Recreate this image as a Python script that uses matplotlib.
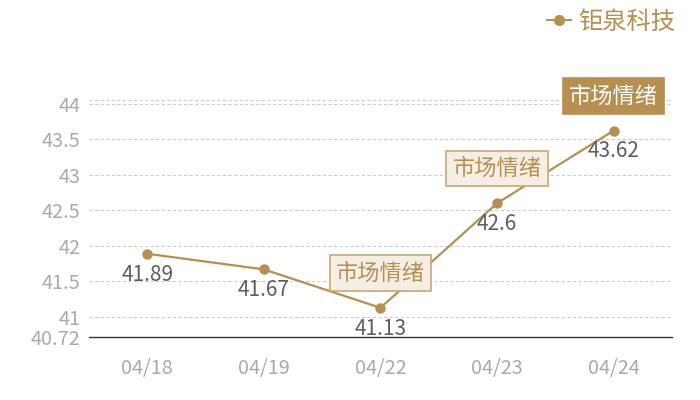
import matplotlib
matplotlib.use("Agg")
import matplotlib.pyplot as plt
from matplotlib.lines import Line2D

plt.rcParams["font.family"] = ["Noto Sans CJK SC", "DejaVu Sans"]

# data
dates = ["04/18", "04/19", "04/22", "04/23", "04/24"]
prices = [41.89, 41.67, 41.13, 42.6, 43.62]
series_name = "钜泉科技"
mark_label = "市场情绪"
mark_idx = [2, 3, 4]
mark_hot = 4
y_ticks = [40.72, 41, 41.5, 42, 42.5, 43, 43.5, 44]
y_min, y_max = 40.72, 44.05

GOLD = "#b68f51"
LIGHT_BG = "#f4eee5"
LIGHT_EDGE = "#c9a873"
TICK = "#aaaaaa"
LABEL = "#5e5e5e"
GRID = "#cccccc"

fig = plt.figure(figsize=(7, 4), dpi=100)
ax = fig.add_axes([0.127, 0.1575, 0.833, 0.5925])

x = list(range(len(dates)))
ax.plot(x, prices, color=GOLD, linewidth=1.6, marker="o", markersize=6.5,
        zorder=3, clip_on=False)

for xi, v in zip(x, prices):
    ax.annotate(f"{v:g}", (xi, v), xytext=(0, -15), textcoords="offset points",
                ha="center", va="center", fontsize=15, color=LABEL, zorder=4)

for i in mark_idx:
    hot = i == mark_hot
    ax.annotate(mark_label, (x[i], prices[i]), xytext=(0, 25),
                textcoords="offset points", ha="center", va="center",
                fontsize=16, color="white" if hot else GOLD, zorder=5,
                annotation_clip=False,
                bbox=dict(boxstyle="square,pad=0.28",
                          facecolor=GOLD if hot else LIGHT_BG,
                          edgecolor=GOLD if hot else LIGHT_EDGE, linewidth=1.2))

ax.set_xlim(-0.5, len(dates) - 0.5)
ax.set_ylim(y_min, y_max)
ax.set_xticks(x)
ax.set_xticklabels(dates)
ax.set_yticks(y_ticks)
ax.set_yticklabels([f"{t:g}" for t in y_ticks])
ax.tick_params(length=0, labelsize=14.3, labelcolor=TICK)
ax.tick_params(axis="x", pad=15)
ax.tick_params(axis="y", pad=6)

for t in y_ticks[1:]:
    ax.axhline(t, color=GRID, linewidth=0.8, linestyle=(0, (3, 2)), zorder=1)
ax.axhline(y_max, color=GRID, linewidth=0.8, linestyle=(0, (3, 2)), zorder=1)

for s in ("top", "right", "left"):
    ax.spines[s].set_visible(False)
ax.spines["bottom"].set_color("#333333")
ax.spines["bottom"].set_linewidth(1)

handle = Line2D([], [], color=GOLD, linewidth=1.4, marker="o", markersize=7)
fig.legend([handle], [series_name], loc="upper right",
           bbox_to_anchor=(0.996, 1.033), frameon=False, fontsize=17.5,
           labelcolor=GOLD, handlelength=1.0, handletextpad=0.3)

fig.savefig("out.png", dpi=100)
